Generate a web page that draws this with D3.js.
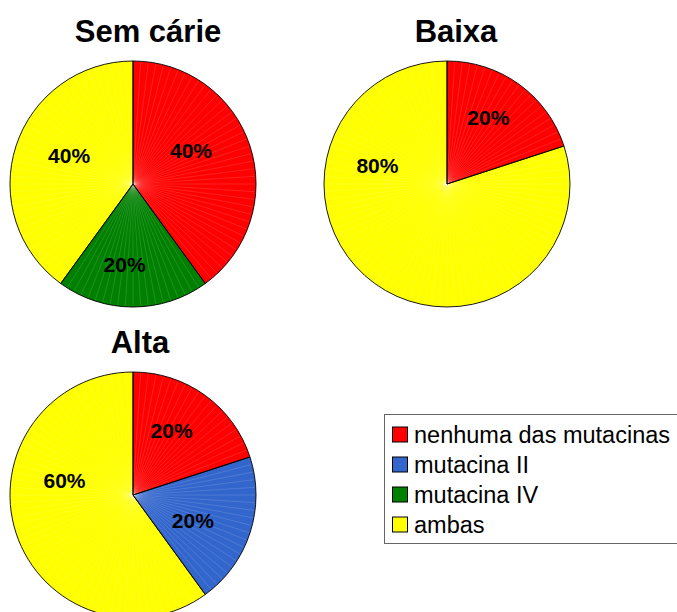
<!DOCTYPE html>
<html><head><meta charset="utf-8">
<script src="https://cdn.jsdelivr.net/npm/d3@7"></script>
<style>body{margin:0;background:#fff}svg{display:block}</style>
</head><body>
<svg id="c" width="677" height="612"></svg>
<script>
const categories = ["nenhuma das mutacinas", "mutacina II", "mutacina IV", "ambas"];
const colors = ["#FF0000", "#3366CC", "#008000", "#FFFF00"];
const groups = ["Sem cárie", "Baixa", "Alta"];
const semCarie = [40, 0, 20, 40];
const baixa = [20, 0, 0, 80];
const alta = [20, 20, 0, 60];
const seriesValues = [semCarie, baixa, alta];

const FONT = "Arial, 'Liberation Sans', sans-serif";
const svg = d3.select("#c");
const layout = [
  {cx: 133, cy: 184, tx: 148, ty: 42},
  {cx: 447, cy: 184, tx: 456, ty: 42},
  {cx: 133, cy: 495, tx: 140, ty: 353}
];
// label placement (angle in degrees clockwise from top, radius in px) for each visible slice
const labelPlacement = [
  [[60, 67], [186, 81], [294, 70]],
  [[32, 78], [285, 72]],
  [[31, 75], [113, 65], [282, 70]]
];
const R = 123;
const pie = d3.pie().sort(null).value(d => d.v);
const arc = d3.arc().innerRadius(0).outerRadius(R);

groups.forEach((g, gi) => {
  const L = layout[gi];
  svg.append("text").attr("x", L.tx).attr("y", L.ty)
    .attr("text-anchor", "middle").attr("font-family", FONT)
    .attr("font-weight", "bold").attr("font-size", 31).text(g);
  const data = seriesValues[gi].map((v, i) => ({v, i})).filter(d => d.v > 0);
  const arcs = pie(data);
  const gg = svg.append("g").attr("transform", `translate(${L.cx},${L.cy})`);
  gg.selectAll("path.s").data(arcs).enter().append("path")
    .attr("d", arc).attr("fill", d => colors[d.data.i]);
  // faint radial shading lines
  const lines = d3.range(0, 360, 3.6);
  gg.selectAll("line.r").data(lines).enter().append("line")
    .attr("x1", 0).attr("y1", 0)
    .attr("x2", a => (R - 1) * Math.sin(a * Math.PI / 180))
    .attr("y2", a => -(R - 1) * Math.cos(a * Math.PI / 180))
    .attr("stroke", "#fff").attr("stroke-opacity", 0.22).attr("stroke-width", 0.6);
  gg.selectAll("path.b").data(arcs).enter().append("path")
    .attr("d", arc).attr("fill", "none")
    .attr("stroke", "#000").attr("stroke-width", 0.9);
  const total = d3.sum(data, d => d.v);
  gg.selectAll("text.l").data(arcs).enter().append("text")
    .attr("transform", (d, k) => {
      const [deg, r] = labelPlacement[gi][k];
      const a = deg * Math.PI / 180;
      return `translate(${r * Math.sin(a)},${-r * Math.cos(a)})`;
    })
    .attr("text-anchor", "middle").attr("dy", "0.36em")
    .attr("font-family", FONT)
    .attr("font-weight", "bold").attr("font-size", 21)
    .text(d => Math.round(d.data.v / total * 100) + "%");
});

// legend
const lg = svg.append("g");
lg.append("rect").attr("x", 384.5).attr("y", 414.5).attr("width", 300).attr("height", 129)
  .attr("fill", "#fff").attr("stroke", "#666").attr("stroke-width", 1);
const ly = d3.scaleBand().domain(categories).range([419.5, 539.5]);
categories.forEach((c, i) => {
  const y = ly(c) + ly.bandwidth() / 2;
  lg.append("rect").attr("x", 392.5).attr("y", y - 7.5).attr("width", 15).attr("height", 15)
    .attr("fill", colors[i]).attr("stroke", "#000").attr("stroke-width", 1);
  lg.append("text").attr("x", 414).attr("y", y).attr("dy", "0.36em")
    .attr("font-family", FONT).attr("font-size", 23.5)
    .text(c);
});
</script>
</body></html>
